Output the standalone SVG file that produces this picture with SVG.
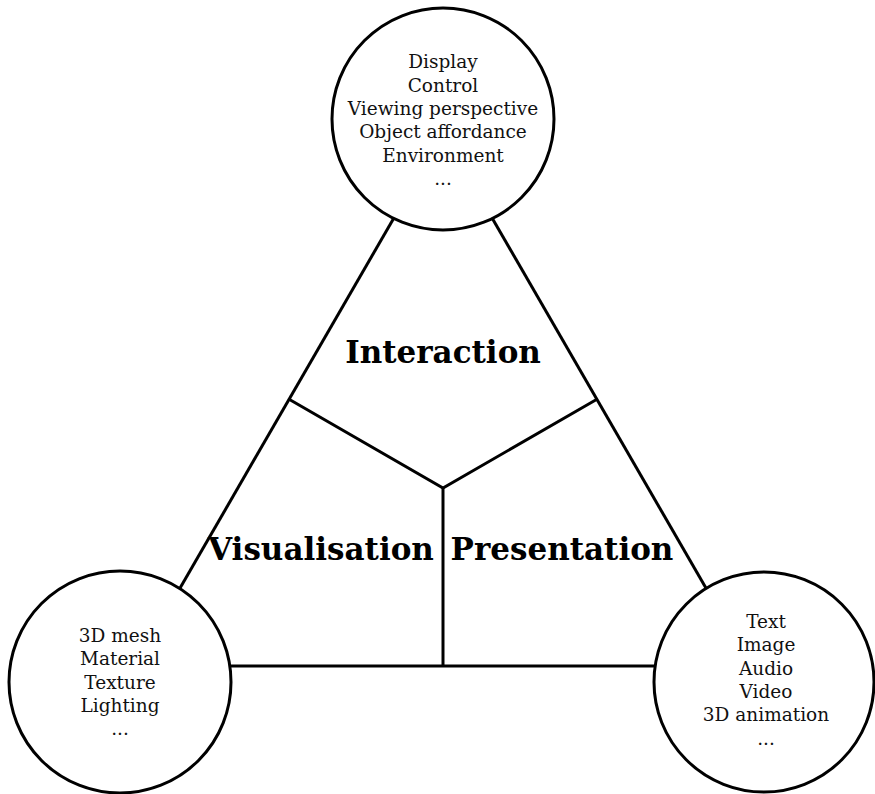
<svg xmlns="http://www.w3.org/2000/svg" width="875" height="794" viewBox="0 0 875 794">
<style>
.ln{stroke:#000;stroke-width:3;fill:none;stroke-linecap:butt}
.nd{fill:#fff;stroke:#000;stroke-width:3}
.t{font-family:"DejaVu Serif","Liberation Serif",serif;font-size:18.5px;fill:#111;text-anchor:middle}
.b{font-family:"DejaVu Serif","Liberation Serif",serif;font-size:31px;font-weight:bold;fill:#000;text-anchor:middle}
</style>
<rect width="875" height="794" fill="#fff"/>
<g id="connectors">
<line class="ln" x1="443" y1="133" x2="135" y2="666"/>
<line class="ln" x1="443" y1="133" x2="751" y2="666"/>
<line class="ln" x1="135" y1="666" x2="751" y2="666"/>
<polyline class="ln" points="289.5,399.5 443,488 596.5,399.5"/>
<line class="ln" x1="443" y1="488" x2="443" y2="666"/>
</g>
<g id="labels">
<text class="b" x="443" y="363">Interaction</text>
<text class="b" x="321" y="560">Visualisation</text>
<text class="b" x="562" y="560">Presentation</text>
</g>
<g id="interaction-node">
<circle class="nd" cx="443" cy="119" r="111"/>
<text class="t" x="443" y="68.3">Display</text>
<text class="t" x="443" y="91.7">Control</text>
<text class="t" x="443" y="115">Viewing perspective</text>
<text class="t" x="443" y="138.3">Object affordance</text>
<text class="t" x="443" y="161.7">Environment</text>
<text class="t" x="443" y="185">...</text>
</g>
<g id="visualisation-node">
<circle class="nd" cx="120" cy="682" r="111"/>
<text class="t" x="120" y="642">3D mesh</text>
<text class="t" x="120" y="665.3">Material</text>
<text class="t" x="120" y="688.6">Texture</text>
<text class="t" x="120" y="711.9">Lighting</text>
<text class="t" x="120" y="735">...</text>
</g>
<g id="presentation-node">
<circle class="nd" cx="764" cy="682" r="110"/>
<text class="t" x="766" y="628">Text</text>
<text class="t" x="766" y="651.3">Image</text>
<text class="t" x="766" y="674.6">Audio</text>
<text class="t" x="766" y="697.9">Video</text>
<text class="t" x="766" y="721.2">3D animation</text>
<text class="t" x="766" y="745">...</text>
</g>
</svg>
